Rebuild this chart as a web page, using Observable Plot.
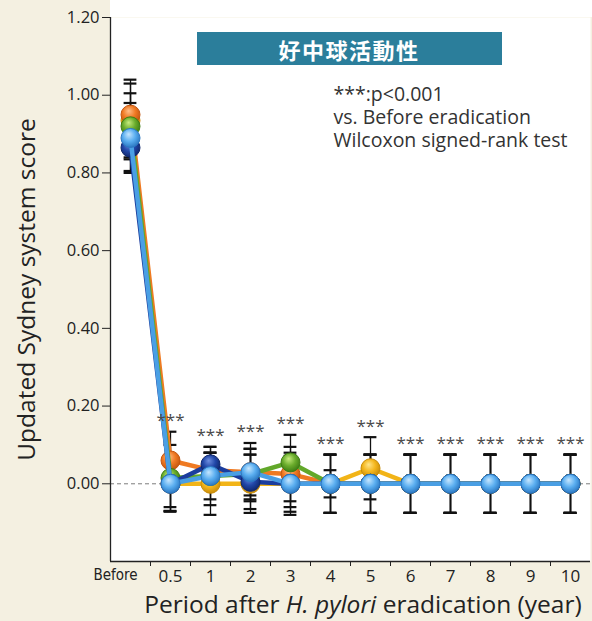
<!DOCTYPE html>
<html>
<head>
<meta charset="utf-8">
<script src="https://cdn.jsdelivr.net/npm/d3@7"></script>
<script src="https://cdn.jsdelivr.net/npm/@observablehq/plot@0.6"></script>
<style>
  html, body { margin: 0; padding: 0; background: #f4f0e1; }
  #chart svg { display: block; font-family: "Open Sans", sans-serif; }
</style>
</head>
<body>
<div id="chart"></div>
<script>
// Time points after eradication
const periods = ["Before", "0.5", "1", "2", "3", "4", "5", "6", "7", "8", "9", "10"];
const yTicks = [0, 0.2, 0.4, 0.6, 0.8, 1.0, 1.2];

// Mean score and SD per group at each time point
const orangeMean = [0.95, 0.06, 0.035, 0.03, 0.025, 0, 0, 0, 0, 0, 0, 0];
const orangeSd   = [0.09, 0.074, 0.045, 0.06, 0.07, 0.075, 0.075, 0.075, 0.075, 0.075, 0.075, 0.075];
const yellowMean = [0.935, 0, 0, 0, 0, 0, 0.04, 0, 0, 0, 0, 0];
const yellowSd   = [0.095, 0.07, 0.08, 0.075, 0.08, 0.035, 0.08, 0.075, 0.075, 0.075, 0.075, 0.075];
const greenMean  = [0.92, 0.015, 0.02, 0.025, 0.055, 0, 0, 0, 0, 0, 0, 0];
const greenSd    = [0.085, 0.085, 0.075, 0.065, 0.071, 0.075, 0.075, 0.075, 0.075, 0.075, 0.075, 0.075];
const navyMean   = [0.865, 0, 0.05, 0.005, 0, 0, 0, 0, 0, 0, 0, 0];
const navySd     = [0.06, 0.06, 0.045, 0.07, 0.06, 0.075, 0.075, 0.075, 0.075, 0.075, 0.075, 0.075];
const skyMean    = [0.89, 0, 0.02, 0.03, 0, 0, 0, 0, 0, 0, 0, 0];
const skySd      = [0.09, 0.072, 0.06, 0.075, 0.072, 0.075, 0.075, 0.075, 0.075, 0.075, 0.075, 0.075];

const legendLines = ["***:p<0.001", "vs. Before eradication", "Wilcoxon signed-rank test"];

// Group styling, in drawing order (last on top)
const groups = [
  {key: "yellow", mean: yellowMean, sd: yellowSd, line: "#f2b417", base: "#f4b61c", hi: "#ffe58a", edge: "#c98d0a"},
  {key: "orange", mean: orangeMean, sd: orangeSd, line: "#ef7a22", base: "#f07a24", hi: "#ffc08a", edge: "#c4560f"},
  {key: "green",  mean: greenMean,  sd: greenSd,  line: "#62a82a", base: "#6aac2c", hi: "#c7ec7e", edge: "#3e7d14"},
  {key: "navy",   mean: navyMean,   sd: navySd,   line: "#1b3d9e", base: "#2147a8", hi: "#6f8fe0", edge: "#10286e"},
  {key: "sky",    mean: skyMean,    sd: skySd,    line: "#4a9fe4", base: "#5aaef0", hi: "#c5e6ff", edge: "#2c78c2"}
];

const rows = groups.flatMap(g => periods.map((p, i) => ({group: g.key, i, period: p, mean: g.mean[i], sd: g.sd[i]})));

// Significance labels sit above the highest error bar at each follow-up point
const stars = periods.slice(1).map((p, k) => {
  const i = k + 1;
  return {i, top: d3.max(rows.filter(r => r.i === i), r => r.mean + r.sd)};
});

const seriesMarks = groups.flatMap(g => {
  const data = rows.filter(r => r.group === g.key);
  return [
    Plot.line(data, {x: "i", y: "mean", stroke: g.line, strokeWidth: 4.5, strokeLinejoin: "round"}),
    Plot.dot(data, {x: "i", y: "mean", r: 9.5, fill: `url(#grad-${g.key})`, stroke: g.edge, strokeWidth: 1})
  ];
});

const plot = Plot.plot({
  width: 592,
  height: 621,
  marginTop: 17,
  marginBottom: 60,
  marginLeft: 110,
  marginRight: 2,
  style: {background: "transparent", fontFamily: "Open Sans, sans-serif"},
  x: {domain: [-0.5, periods.length - 0.5], axis: null},
  y: {domain: [-0.2, 1.2], axis: null},
  marks: [
    Plot.frame({fill: "white", stroke: "none"}),
    Plot.ruleY([0], {stroke: "#7c7c7c", strokeWidth: 1, strokeDasharray: "4,3"}),
    // error bars
    Plot.ruleX(rows, {x: "i", y1: d => d.mean - d.sd, y2: d => d.mean + d.sd, stroke: "#111", strokeWidth: 1.3}),
    Plot.ruleY(rows, {y: d => d.mean + d.sd, x1: d => d.i - 0.16, x2: d => d.i + 0.16, stroke: "#111", strokeWidth: 2.2}),
    Plot.ruleY(rows, {y: d => d.mean - d.sd, x1: d => d.i - 0.16, x2: d => d.i + 0.16, stroke: "#111", strokeWidth: 2.2}),
    ...seriesMarks,
    Plot.text(stars, {x: "i", y: "top", text: () => "***", dy: -11, fill: "#4a4a4a", fontSize: 17, letterSpacing: 0.5}),
    // axes
    Plot.ruleX([-0.5], {stroke: "#222", strokeWidth: 1.3}),
    Plot.ruleY([-0.2], {stroke: "#222", strokeWidth: 1.3}),
    Plot.axisY({ticks: yTicks, tickFormat: d3.format(".2f"), tickSize: 8, tickPadding: 3, fontSize: 16.5, label: null, color: "#222"}),
    Plot.axisX({ticks: d3.range(0.5, periods.length - 0.5, 1), tickFormat: () => "", tickSize: 5, label: null, color: "#222"}),
    Plot.axisX({ticks: d3.range(periods.length), tickFormat: i => periods[i], tickSize: 0, tickPadding: 8, fontSize: 17, label: null, color: "#222"}),
    Plot.text(["Updated Sydney system score"], {text: d => d, frameAnchor: "left", textAnchor: "middle", rotate: -90, dx: -83, fontSize: 24.5, fill: "#222"}),
    Plot.text([legendLines.join("\n")], {text: d => d, frameAnchor: "top-left", dx: 223, dy: 67, lineAnchor: "top", textAnchor: "start", fontSize: 19.5, lineHeight: 1.18, fill: "#333"})
  ]
});

document.getElementById("chart").appendChild(plot);
const svg = d3.select(plot);

// Glossy ball gradients
const defs = svg.insert("defs", ":first-child");
groups.forEach(g => {
  const grad = defs.append("radialGradient").attr("id", `grad-${g.key}`)
    .attr("cx", "45%").attr("cy", "40%").attr("r", "60%").attr("fx", "40%").attr("fy", "30%");
  grad.append("stop").attr("offset", "0%").attr("stop-color", g.hi);
  grad.append("stop").attr("offset", "55%").attr("stop-color", g.base);
  grad.append("stop").attr("offset", "100%").attr("stop-color", g.edge);
});

// White panel extends to the top edge
svg.insert("rect", "defs + *").attr("x", 110).attr("y", 0).attr("width", 482).attr("height", 17).attr("fill", "white");

// Narrow "Before" tick label
svg.selectAll("text").filter(function() { return this.textContent === "Before"; })
  .style("font-family", "'Liberation Sans Narrow', 'DejaVu Sans Condensed', sans-serif")
  .style("font-size", "15px")
  .attr("dx", -15);

// Title banner
const banner = svg.append("g");
banner.append("rect").attr("x", 197).attr("y", 32).attr("width", 305).attr("height", 33).attr("fill", "#2b7e9b");
banner.append("text").attr("x", 349).attr("y", 49).attr("text-anchor", "middle").attr("dominant-baseline", "central")
  .attr("fill", "white").style("font-family", "'Noto Sans CJK JP', sans-serif").style("font-weight", "bold")
  .style("font-size", "22px").style("letter-spacing", "1.5px").text("好中球活動性");

// X axis title with italic species name
const xt = svg.append("text").attr("x", 363).attr("y", 613).attr("text-anchor", "middle")
  .attr("fill", "#222").style("font-size", "24.5px");
xt.append("tspan").text("Period after ");
xt.append("tspan").style("font-style", "italic").text("H. pylori");
xt.append("tspan").text(" eradication (year)");
</script>
</body>
</html>
